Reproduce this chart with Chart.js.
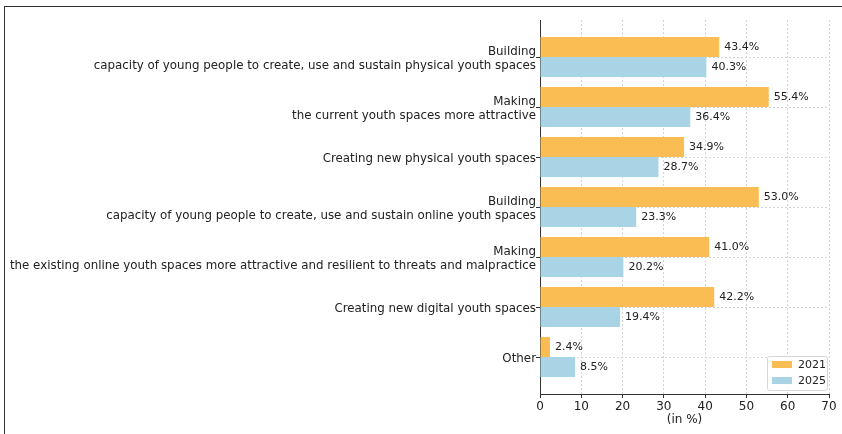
<!DOCTYPE html>
<html>
<head>
<meta charset="utf-8">
<script src="https://cdn.jsdelivr.net/npm/chart.js@4.4.1/dist/chart.umd.min.js"></script>
<style>
  html, body { margin: 0; padding: 0; background: #fff; }
  #wrap { position: relative; width: 842px; height: 434px; }
  #frame { position: absolute; left: 4px; top: 6px; right: 0; bottom: 0;
           border-left: 1.5px solid #333; border-top: 1.5px solid #333; pointer-events: none; }
  canvas { position: absolute; left: 0; top: 0; }
</style>
</head>
<body>
<div id="wrap">
  <canvas id="chart" width="842" height="434"></canvas>
  <div id="frame"></div>
</div>
<script>
// --- Data ---
const categories = [
    ['Building', 'capacity of young people to create, use and sustain physical youth spaces'],
    ['Making', 'the current youth spaces more attractive'],
    'Creating new physical youth spaces',
    ['Building', 'capacity of young people to create, use and sustain online youth spaces'],
    ['Making', 'the existing online youth spaces more attractive and resilient to threats and malpractice'],
    'Creating new digital youth spaces',
    'Other'
];
const values2021 = [43.4, 55.4, 34.9, 53.0, 41.0, 42.2, 2.4];
const values2025 = [40.3, 36.4, 28.7, 23.3, 20.2, 19.4, 8.5];
const xTicks = [0, 10, 20, 30, 40, 50, 60, 70];

const FONT = 'DejaVu Sans';
const TEXT = '#222';
const GRID = '#d4d4d4';

// --- Plugins ---
const valueLabels = {
    id: 'valueLabels',
    afterDatasetsDraw(chart) {
        const ctx = chart.ctx;
        ctx.save();
        ctx.font = `11px "${FONT}"`;
        ctx.fillStyle = TEXT;
        ctx.textBaseline = 'middle';
        ctx.textAlign = 'left';
        chart.data.datasets.forEach((ds, di) => {
            chart.getDatasetMeta(di).data.forEach((bar, i) => {
                ctx.fillText(ds.data[i].x.toFixed(1) + '%', bar.x + 5, bar.y);
            });
        });
        ctx.restore();
    }
};

// legend box in the lower right corner of the plot
const cornerLegend = {
    id: 'cornerLegend',
    afterDraw(chart) {
        const ctx = chart.ctx;
        const area = chart.chartArea;
        const w = 60, h = 34;
        const x = area.right - w - 2, y = area.bottom - h - 4;
        ctx.save();
        ctx.fillStyle = 'rgba(255,255,255,0.85)';
        ctx.strokeStyle = '#d8d8d8';
        ctx.lineWidth = 1;
        ctx.beginPath();
        ctx.roundRect(x + 0.5, y + 0.5, w, h, 2);
        ctx.fill();
        ctx.stroke();
        ctx.font = `11px "${FONT}"`;
        ctx.textBaseline = 'middle';
        chart.data.datasets.forEach((ds, i) => {
            const cy = y + 9 + i * 16;
            ctx.fillStyle = ds.backgroundColor;
            ctx.fillRect(x + 5, cy - 4, 20, 7);
            ctx.fillStyle = TEXT;
            ctx.fillText(ds.label, x + 31, cy);
        });
        ctx.restore();
    }
};

const toPoints = arr => arr.map((v, i) => ({ x: v, y: i }));

new Chart(document.getElementById('chart'), {
    type: 'bar',
    data: {
        datasets: [
            { label: '2021', data: toPoints(values2021), backgroundColor: '#f9bd53' },
            { label: '2025', data: toPoints(values2025), backgroundColor: '#a9d4e6' }
        ]
    },
    options: {
        indexAxis: 'y',
        responsive: false,
        animation: false,
        categoryPercentage: 0.8,
        barPercentage: 1.0,
        layout: { padding: { top: 20, right: 13, left: 0, bottom: 7 } },
        plugins: {
            legend: { display: false },
            tooltip: { enabled: false }
        },
        scales: {
            x: {
                type: 'linear',
                min: 0,
                max: 70,
                afterBuildTicks: s => { s.ticks = xTicks.map(v => ({ value: v })); },
                afterFit: s => { s.height = 33; },
                grid: { color: GRID, tickLength: 4, tickColor: '#333', tickBorderDash: [] },
                border: { display: true, color: '#333', width: 1, dash: [2, 2] },
                ticks: { color: TEXT, font: { family: FONT, size: 12 }, padding: 2 },
                title: { display: true, text: '(in %)', color: TEXT, font: { family: FONT, size: 12 }, padding: 0 }
            },
            y: {
                type: 'linear',
                reverse: true,
                offset: false,
                min: -0.74,
                max: 6.74,
                afterBuildTicks: s => { s.ticks = categories.map((_, i) => ({ value: i })); },
                afterFit: s => { s.width = 540; },
                grid: { offset: false, color: GRID, tickLength: 4, tickColor: '#333', tickBorderDash: [] },
                border: { display: true, color: '#333', width: 1, dash: [2, 2] },
                ticks: {
                    color: TEXT,
                    font: { family: FONT, size: 11.85, lineHeight: 1.25 },
                    padding: 0,
                    labelOffset: 2,
                    callback: v => categories[v]
                }
            }
        }
    },
    plugins: [valueLabels, cornerLegend]
});
</script>
</body>
</html>
